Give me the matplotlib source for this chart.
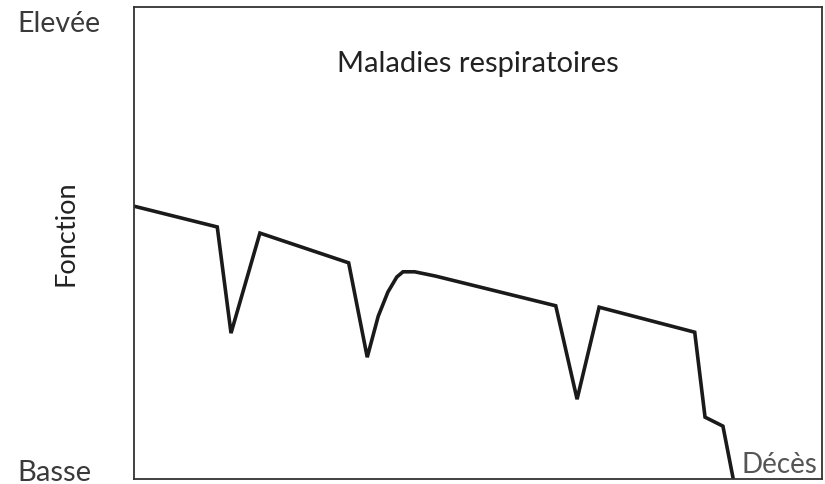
import matplotlib
matplotlib.use('Agg')
import matplotlib.pyplot as plt

# courbe de fonction (0 = basse, 100 = élevée) au cours du temps
temps = [0, 12.1, 14.1, 18.3, 31.2, 33.9, 35.5, 36.9, 38.2, 39.1, 40.8, 43.8,
         61.3, 64.4, 67.6, 81.5, 83.0, 85.6, 87.1]
fonction = [57.8, 53.4, 30.9, 52.1, 45.8, 25.8, 34.5, 39.6, 42.8, 43.9, 43.9, 43.0,
            36.7, 16.9, 36.4, 31.1, 13.1, 11.2, 0]

titre = 'Maladies respiratoires'
label_haut = 'Elevée'
label_bas = 'Basse'
label_y = 'Fonction'
label_fin = 'Décès'

plt.rcParams['font.family'] = ['Lato', 'DejaVu Sans']

fig = plt.figure(figsize=(8.25, 4.85), dpi=100)
ax = fig.add_axes([134 / 825, 1 - 480 / 485, 688 / 825, 472 / 485])

ax.plot(temps, fonction, color='#1a1a1a', linewidth=2.6,
        solid_joinstyle='miter', solid_capstyle='butt')

ax.set_xlim(0, 100)
ax.set_ylim(0, 100)
ax.set_xticks([])
ax.set_yticks([])
for s in ax.spines.values():
    s.set_linewidth(1.3)
    s.set_color('#333333')

txt = '#3a3a3a'
fig.text(17 / 825, 1 - 32 / 485, label_haut, fontsize=20.5, color=txt, va='baseline', ha='left')
fig.text(17 / 825, 1 - 481 / 485, label_bas, fontsize=21, color=txt, va='baseline', ha='left')
fig.text(66 / 825, 1 - 233 / 485, label_y, fontsize=19.5, color='#222222', rotation=90,
         va='center', ha='center')
fig.text(478 / 825, 1 - 72 / 485, titre, fontsize=21, color='#222222', va='baseline', ha='center')
fig.text(742 / 825, 1 - 473 / 485, label_fin, fontsize=20, color='#555555', va='baseline', ha='left')

fig.savefig('out.png', dpi=100)
